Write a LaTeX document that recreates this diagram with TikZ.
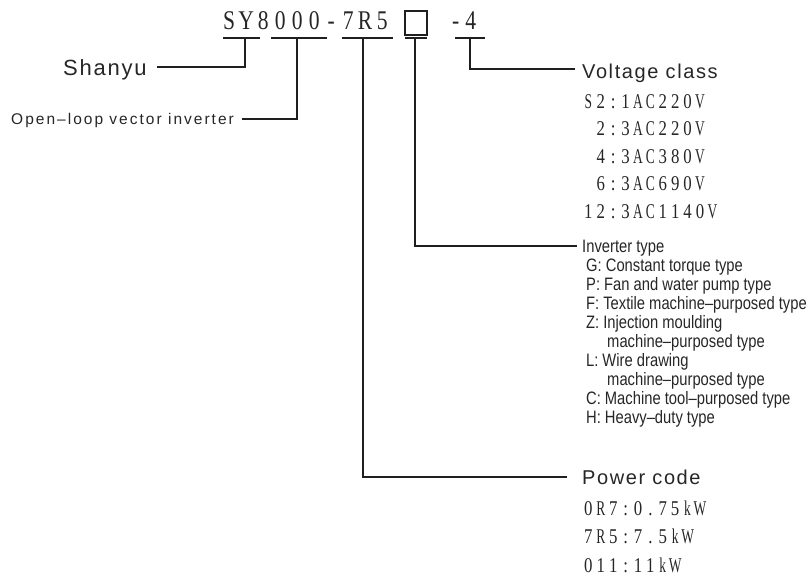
\documentclass[tikz,border=0pt]{standalone}
\usepackage{fontspec}
\usepackage{graphicx}
\setmainfont{Liberation Sans}
\newfontfamily\lblfont[LetterSpace=8]{Liberation Sans}
\newfontfamily\smallfont[LetterSpace=13]{Liberation Sans}
\newfontfamily\narrowfont[FakeStretch=0.82]{Liberation Sans}
\newfontfamily\seriffont[FakeStretch=0.8]{Liberation Serif}
\makeatletter
\newcommand\cellrow[2]{\@tfor\cc:=#2\do{\makebox[#1][c]{\cc}}}
\newcommand\narrowcells[2]{\@tfor\cc:=#2\do{\makebox[#1][c]{%
  \expandafter\ifcat\cc a\scalebox{0.8}[1]{\cc}\else\cc\fi}}}
\makeatother
\tikzset{
  conn/.style={line width=1.3pt, draw=black!88},
  txt/.style={anchor=base west, inner sep=0pt, text=black!85},
  biglbl/.style={txt, font=\lblfont\fontsize{20}{20}\selectfont},
  monolist/.style={txt, font=\seriffont\fontsize{21}{21}\selectfont},
  itype/.style={txt, font=\narrowfont\fontsize{18}{18}\selectfont},
}
\begin{document}
\begin{tikzpicture}[x=1pt,y=-1pt]
\useasboundingbox (0,0) rectangle (812,576);
% model code
\node[txt, font=\seriffont\fontsize{27}{27}\selectfont] (code) at (220.5,29) {\cellrow{17pt}{SY8000-7R5}};
\node[conn, draw, minimum width=22pt, minimum height=24pt, inner sep=0pt] (sq) at (416,23) {};
\node[txt, font=\seriffont\fontsize{27}{27}\selectfont] (suffix) at (448,29) {\cellrow{15pt}{-4}};
% underline segments
\coordinate (syL) at (223,38);  \coordinate (syR) at (260,38);
\coordinate (nL) at (271,38);   \coordinate (nR) at (327,38);
\coordinate (pL) at (342,38);   \coordinate (pR) at (393,38);
\coordinate (tL) at (405,38);   \coordinate (tR) at (427,38);
\coordinate (vL) at (455,38);   \coordinate (vR) at (485,38);
\draw[conn] (syL) -- (syR);
\draw[conn] (nL) -- (nR);
\draw[conn] (pL) -- (pR);
\draw[conn] (tL) -- (tR);
\draw[conn] (vL) -- (vR);
\coordinate (syM) at (245,38);
\coordinate (nM) at (297,38);
\coordinate (pM) at (363,38);
\coordinate (tM) at (415,38);
\coordinate (vM) at (470,38);
% labels
\node[txt, font=\lblfont\fontsize{22}{22}\selectfont] (shanyu) at (63,75) {Shanyu};
\node[txt, font=\smallfont\fontsize{15.5}{16}\selectfont] (openloop) at (11,124.5) {Open–loop vector inverter};
\node[biglbl] (voltage) at (582,78) {Voltage class};
\node[biglbl] (power) at (582,484) {Power code};
% connector ends
\coordinate (shanyuEnd) at (157,67);
\coordinate (openEnd) at (242,119);
\coordinate (voltEnd) at (575,69);
\coordinate (typeEnd) at (577,246);
\coordinate (powerEnd) at (567,477);
\draw[conn] (syM) |- (shanyuEnd);
\draw[conn] (nM) |- (openEnd);
\draw[conn] (vM) |- (voltEnd);
\draw[conn] (tM) |- (typeEnd);
\draw[conn] (pM) |- (powerEnd);
% voltage list
\node[monolist] (v1) at (582,108.5) {\narrowcells{12.4pt}{S2:1AC220V}};
\node[monolist] (v2) at (594.4,135.9) {\narrowcells{12.4pt}{2:3AC220V}};
\node[monolist] (v3) at (594.4,163.3) {\narrowcells{12.4pt}{4:3AC380V}};
\node[monolist] (v4) at (594.4,190.7) {\narrowcells{12.4pt}{6:3AC690V}};
\node[monolist] (v5) at (582,218.1) {\narrowcells{12.4pt}{12:3AC1140V}};
% inverter type list
\node[itype] (it0) at (582,252) {Inverter type};
\node[itype] (it1) at (586,271.1) {G: Constant torque type};
\node[itype] (it2) at (586,290.2) {P:\hspace{4pt}Fan and water pump type};
\node[itype] (it3) at (586,309.3) {F:\hspace{4pt}Textile machine–purposed type};
\node[itype] (it4) at (586,328.4) {Z:\hspace{4pt}Injection moulding};
\node[itype] (it5) at (607,347.5) {machine–purposed type};
\node[itype] (it6) at (586,366.6) {L:\hspace{4pt}Wire drawing};
\node[itype] (it7) at (607,385.7) {machine–purposed type};
\node[itype] (it8) at (586,404.8) {C:\hspace{4pt}Machine tool–purposed type};
\node[itype] (it9) at (586,423.9) {H:\hspace{4pt}Heavy–duty type};
% power list
\node[monolist] (p1) at (582,515) {\narrowcells{12.4pt}{0R7:0.75kW}};
\node[monolist] (p2) at (582,543.5) {\narrowcells{12.4pt}{7R5:7.5kW}};
\node[monolist] (p3) at (582,572) {\narrowcells{12.4pt}{011:11kW}};
\end{tikzpicture}
\end{document}
